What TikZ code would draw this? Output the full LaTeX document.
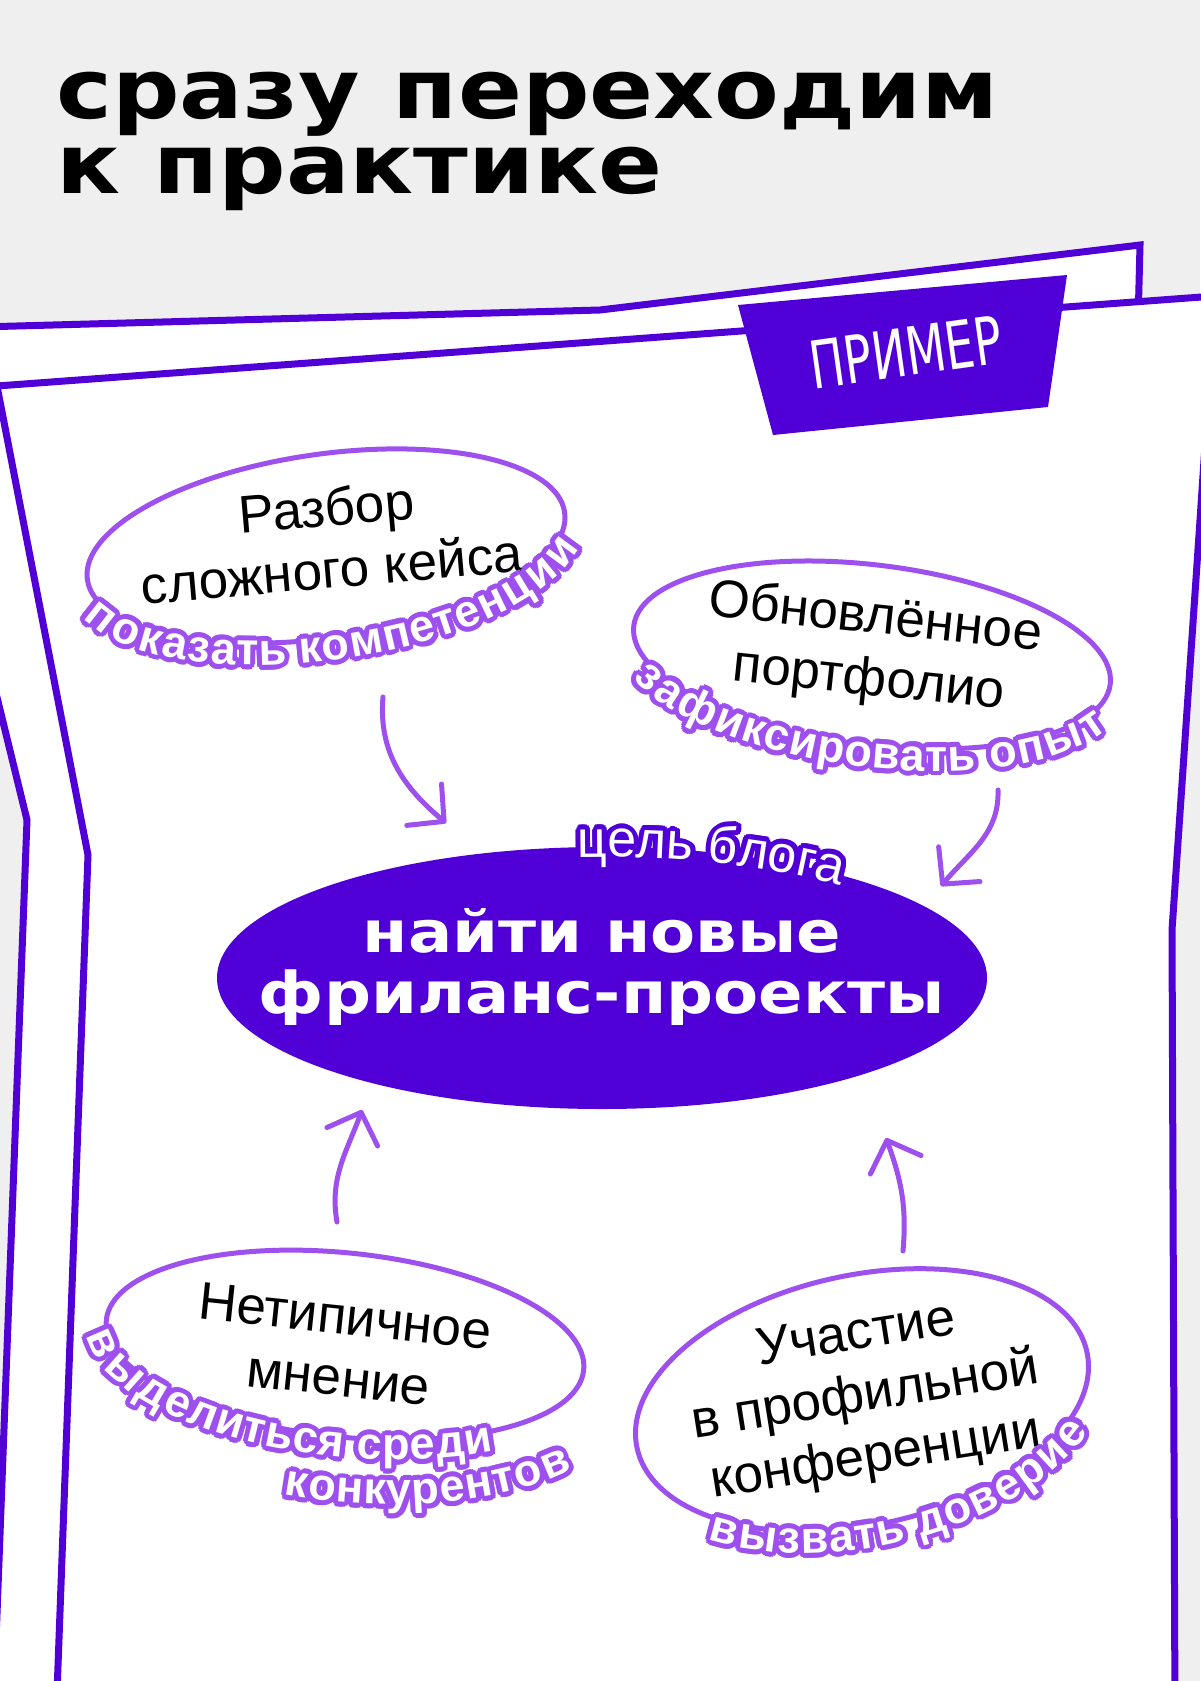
\documentclass[tikz,border=0pt]{standalone}
\usepackage{fontspec}
\setmainfont{Liberation Sans}
\newfontfamily\widefont[FakeStretch=1.14]{DejaVu Sans}
\newfontfamily\handfont[FakeStretch=0.7]{DejaVu Sans}
\usepackage{tikz}
\usetikzlibrary{arrows.meta}
\usetikzlibrary{shapes.geometric}
\usetikzlibrary{decorations.text}

\definecolor{deeppurple}{RGB}{80,0,215}
\definecolor{lilac}{RGB}{158,80,238}
\definecolor{papergrey}{RGB}{239,239,239}

\newcommand{\lblfont}{\bfseries\fontsize{22.5}{24}\selectfont}
\newcommand{\aimfont}{\fontsize{26}{28}\selectfont}

% curved text with an outline: centre, rotation, radii, start, end, raise, font, outline colour, text
\newcommand{\ringlabel}[9]{%
  \foreach \rr/\ang in {5/0,5/22.5,5/45,5/67.5,5/90,5/112.5,5/135,5/157.5,5/180,5/202.5,5/225,5/247.5,5/270,5/292.5,5/315,5/337.5,2.5/0,2.5/45,2.5/90,2.5/135,2.5/180,2.5/225,2.5/270,2.5/315}{
    \path[shift={(#1)}, rotate=#2, shift={(\ang:\rr)}, decorate,
      decoration={text along path, text align=center, raise=#6,
        text={|#7\color{#8}|#9}}]
      (#4:#3) arc (#4:#5:#3);
  }
  \path[shift={(#1)}, rotate=#2, decorate,
    decoration={text along path, text align=center, raise=#6,
      text={|#7\color{white}|#9}}]
    (#4:#3) arc (#4:#5:#3);
}

\begin{document}
\begin{tikzpicture}[x=0.5pt, y=0.5pt,
        sheet_style/.style={draw=deeppurple, fill=white, line width=3.5pt},
        bubble_style/.style={ellipse, draw=lilac, fill=white, line width=2.5pt, inner sep=0pt},
        bubble_text_style/.style={align=center, inner sep=0pt, font=\fontsize{26.5}{31}\selectfont},
        goal_style/.style={ellipse, fill=deeppurple, inner sep=0pt, minimum width=385pt, minimum height=131pt},
        goal_text_style/.style={align=center, text=white, inner sep=0pt, font=\widefont\bfseries\fontsize{28.8}{30.5}\selectfont},
        title_style/.style={anchor=base west, inner sep=0pt, font=\widefont\bfseries\fontsize{41.4}{43}\selectfont},
        tag_style/.style={text=white, inner sep=0pt, font=\handfont\fontsize{33}{35}\selectfont},
        edge_style/.style={draw=lilac, line width=2.5pt, line cap=round, -{Straight Barb[length=13pt, width=27pt, round]}}]

        \fill[papergrey] (0,0) rectangle (1200,-1681);
        \useasboundingbox (0,0) rectangle (1200,-1681);

        \node[title_style] (title1) at (56,-118) {сразу переходим};
        \node[title_style] (title2) at (56,-193) {к практике};

        % two sheets
        \draw[sheet_style] (-20,-327) -- (600,-310) -- (1140,-245) -- (1133,-520) -- (1133,-1720) -- (-7,-1720) -- (27,-820) -- (-17,-640) -- cycle;
        \draw[sheet_style] (-3,-386) -- (1215,-296) -- (1200,-520) -- (1172,-930) -- (1175,-1720) -- (56,-1720) -- (88,-855) -- cycle;

        \fill[deeppurple] (738,-305) -- (1067,-275) -- (1048,-407) -- (773,-435) -- cycle;
        \node[tag_style, rotate=8] (tag) at (906,-352) {ПРИМЕР};

        % goal
        \node[goal_style] (goal) at (602,-978) {};
        \node[goal_text_style] (goal_txt) at (602,-967) {найти новые\\фриланс-проекты};
        \ringlabel{602,-978}{0}{385 and 131}{110}{28}{-5pt}{\aimfont}{deeppurple}{цель блога}

        % bubbles
        \node[bubble_style, rotate=8, minimum width=241pt, minimum height=92pt] (b1) at (326,-546) {};
        \node[bubble_text_style, rotate=5] (t1) at (329,-538) {Разбор\\сложного кейса};
        \ringlabel{326,-546}{8}{241 and 92}{150}{390}{-11pt}{\lblfont}{lilac}{показать компетенции}

        \node[bubble_style, rotate=-7, minimum width=240pt, minimum height=90pt] (b2) at (872,-655) {};
        \node[bubble_text_style, rotate=-6] (t2) at (872,-650) {Обновлённое\\портфолио};
        \ringlabel{872,-655}{-7}{240 and 90}{152}{392}{-11pt}{\lblfont}{lilac}{зафиксировать опыт}

        \node[bubble_style, rotate=-6, minimum width=240pt, minimum height=92pt] (b3) at (345,-1345) {};
        \node[bubble_text_style, rotate=-6] (t3) at (342,-1347) {Нетипичное\\мнение};
        \ringlabel{345,-1345}{-6}{240 and 92}{128}{368}{-10pt}{\lblfont}{lilac}{выделиться среди}
        \ringlabel{345,-1345}{-6}{285 and 135}{215}{395}{-11pt}{\lblfont}{lilac}{конкурентов}

        \node[bubble_style, rotate=12, minimum width=230pt, minimum height=125pt] (b4) at (862,-1400) {};
        \node[bubble_text_style, rotate=9] (t4) at (866,-1398) {Участие\\в профильной\\конференции};
        \ringlabel{862,-1400}{12}{230 and 125}{189}{369}{-11pt}{\lblfont}{lilac}{вызвать доверие}

        % arrows
        \coordinate (e1a) at (383,-697);
        \coordinate (e1b) at (446,-823);
        \coordinate (e2a) at (998,-790);
        \coordinate (e2b) at (941,-886);
        \coordinate (e3a) at (337,-1222);
        \coordinate (e3b) at (362,-1110);
        \coordinate (e4a) at (903,-1251);
        \coordinate (e4b) at (886,-1138);
        \draw[edge_style] (e1a) to[out=-95, in=140] (e1b);
        \draw[edge_style] (e2a) to[out=-88, in=50] (e2b);
        \draw[edge_style] (e3a) to[out=100, in=-110] (e3b);
        \draw[edge_style] (e4a) to[out=85, in=-70] (e4b);
\end{tikzpicture}
\end{document}
